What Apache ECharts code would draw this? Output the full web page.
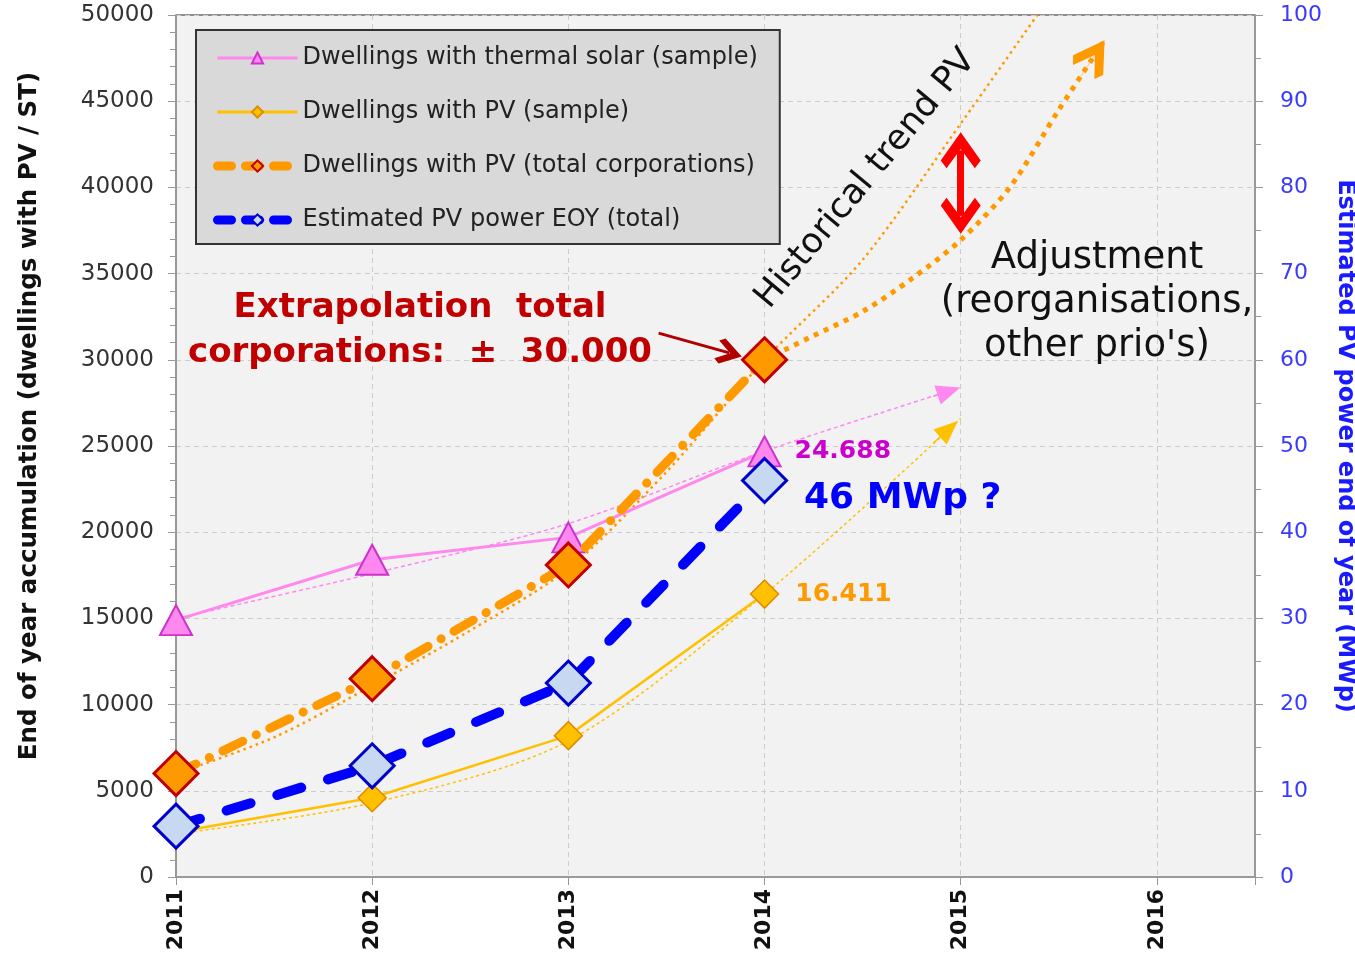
<!DOCTYPE html>
<html>
<head>
<meta charset="utf-8">
<script src="https://cdn.jsdelivr.net/npm/echarts@6/dist/echarts.min.js"></script>
<style>
html,body{margin:0;padding:0;background:#fff;}
#chart{width:1355px;height:963px;}
</style>
</head>
<body>
<div id="chart"></div>
<script>
// ---- data ----
const years = [2011, 2012, 2013, 2014];
const thermalSample = [14900, 18400, 19700, 24688];   // dwellings with thermal solar (sample)
const pvSample = [2600, 4600, 8200, 16411];           // dwellings with PV (sample)
const pvTotal = [6000, 11500, 18100, 30000];          // dwellings with PV (total corporations)
const pvPowerMWp = [5.9, 12.9, 22.5, 46];             // estimated PV power EOY (MWp, right axis)

// trend / extrapolation curves
const thermalTrendX = [2011, 2012, 2013, 2014, 2015];
const thermalTrendY = [15000, 17600, 20500, 24700, 28400];
const pvSampleTrendX = [2011, 2012, 2013, 2014, 2015];
const pvSampleTrendY = [2500, 4300, 7900, 16400, 26600];
const historicalTrendX = [2011, 2011.5, 2012, 2012.5, 2013, 2013.5, 2014, 2014.5, 2015, 2015.39];
const historicalTrendY = [6000, 8100, 11100, 14300, 17900, 23500, 30000, 35800, 43700, 50000];
const adjustmentX = [2014, 2014.25, 2014.5, 2014.75, 2015, 2015.25, 2015.5, 2015.725];
const adjustmentY = [30000, 31400, 32800, 34700, 36950, 40000, 44500, 48400];

const leftTicks = {min: 0, max: 50000, interval: 5000};
const rightTicks = {min: 0, max: 100, interval: 10};
const xTicks = {min: 2011, max: 2016.5, interval: 1};

const names = [
  'Dwellings with thermal solar (sample)',
  'Dwellings with PV (sample)',
  'Dwellings with PV (total corporations)',
  'Estimated PV power EOY (total)'
];

function pairs(xs, ys) { return xs.map((x, i) => [x, ys[i]]); }
function nl(v) { return String(v).replace(/\B(?=(\d{3})+(?!\d))/g, '.'); }
function along(xs, ys, f) {
  const n = xs.length;
  return [xs[n - 2] + (xs[n - 1] - xs[n - 2]) * f, ys[n - 2] + (ys[n - 1] - ys[n - 2]) * f];
}
const FONT = 'DejaVu Sans';
const chevron = 'path://M0,0 L12,11 L8.5,14 L0,6.5 L-8.5,14 L-12,11 Z';

function labelLast(data, label) {
  return data.map((d, i) => i === data.length - 1 ? {value: d, label: label} : d);
}

const chart = echarts.init(document.getElementById('chart'), null, {renderer: 'canvas'});
chart.setOption({
  animation: false,
  backgroundColor: '#ffffff',
  textStyle: {fontFamily: FONT},
  grid: {left: 176, right: 100, top: 15, bottom: 86, show: true, containLabel: false, outerBoundsMode: 'none',
         backgroundColor: '#f2f2f2', borderColor: '#222', borderWidth: 1},
  legend: {
    orient: 'vertical', left: 196, top: 30,
    data: [
      {name: names[0], lineStyle: {width: 3, type: 'solid'}},
      {name: names[1], lineStyle: {width: 3, type: 'solid'}},
      {name: names[2], lineStyle: {width: 9, type: [14, 14], cap: 'round'}},
      {name: names[3], lineStyle: {width: 9, type: [14, 14], cap: 'round'}}
    ],
    backgroundColor: '#d9d9d9', borderColor: '#333', borderWidth: 2,
    padding: [16, 22, 12, 17], itemGap: 30, itemWidth: 80, itemHeight: 14,
    textStyle: {fontFamily: FONT, fontSize: 24, color: '#222'},
    selectedMode: false
  },
  xAxis: {
    type: 'value', min: xTicks.min, max: xTicks.max, interval: xTicks.interval,
    axisLine: {lineStyle: {color: '#999', width: 2}},
    axisTick: {length: 8, lineStyle: {color: '#999'}},
    axisLabel: {rotate: 90, fontSize: 22, fontWeight: 'bold', color: '#111', margin: 12, fontFamily: FONT,
                formatter: v => Number.isInteger(v) ? String(v) : ''},
    splitLine: {show: true, lineStyle: {color: '#cccccc', type: [5, 4], width: 1}}
  },
  yAxis: [{
    type: 'value', min: leftTicks.min, max: leftTicks.max, interval: leftTicks.interval,
    name: 'End of year accumulation (dwellings with PV / ST)', nameLocation: 'middle', nameGap: 134,
    nameTextStyle: {fontSize: 24.5, fontWeight: 'bold', color: '#111', fontFamily: FONT, padding: [0, 0, 0, 60]},
    axisLine: {show: true, lineStyle: {color: '#999', width: 2}},
    axisTick: {show: true, length: 8, lineStyle: {color: '#999'}},
    minorTick: {show: true, splitNumber: 5, length: 6, lineStyle: {color: '#999'}},
    axisLabel: {fontSize: 23, color: '#333', margin: 22, fontFamily: FONT, formatter: v => String(v)},
    splitLine: {show: true, lineStyle: {color: '#cccccc', type: [5, 4], width: 1}}
  }, {
    type: 'value', min: rightTicks.min, max: rightTicks.max, interval: rightTicks.interval, position: 'right',
    name: 'Estimated PV power end of year (MWp)', nameLocation: 'middle', nameGap: 71, nameRotate: -90,
    nameTextStyle: {fontSize: 24, fontWeight: 'bold', color: '#1a1aff', fontFamily: FONT},
    axisLine: {show: true, lineStyle: {color: '#999', width: 2}},
    axisTick: {show: true, length: 8, lineStyle: {color: '#999'}},
    minorTick: {show: true, splitNumber: 2, length: 6, lineStyle: {color: '#999'}},
    axisLabel: {fontSize: 22, color: '#3a3aff', margin: 25, fontFamily: FONT},
    splitLine: {show: false}
  }],
  series: [
    // ---- trend curves ----
    {
      name: 'thermal trend', type: 'line', z: 2, smooth: 0.3, symbol: 'none', silent: true,
      data: pairs(thermalTrendX, thermalTrendY),
      lineStyle: {color: '#ff88ee', width: 1.5, type: [4, 3]},
      markLine: {silent: true, symbol: ['none', 'triangle'], symbolSize: [20, 24], label: {show: false},
        lineStyle: {color: '#ff88ee', width: 1.5, type: 'solid'},
        data: [[{coord: along(thermalTrendX, thermalTrendY, 0.86)}, {coord: along(thermalTrendX, thermalTrendY, 0.94)}]]}
    },
    {
      name: 'pv sample trend', type: 'line', z: 2, smooth: 0.3, symbol: 'none', silent: true,
      data: pairs(pvSampleTrendX, pvSampleTrendY),
      lineStyle: {color: '#ffc000', width: 1.5, type: [3, 3]},
      markLine: {silent: true, symbol: ['none', 'triangle'], symbolSize: [20, 24], label: {show: false},
        lineStyle: {color: '#ffc000', width: 1.5, type: 'solid'},
        data: [[{coord: along(pvSampleTrendX, pvSampleTrendY, 0.86)}, {coord: along(pvSampleTrendX, pvSampleTrendY, 0.94)}]]}
    },
    {
      name: 'historical trend', type: 'line', z: 2, smooth: 0.3, symbol: 'none', silent: true,
      data: pairs(historicalTrendX, historicalTrendY),
      lineStyle: {color: '#ff9900', width: 2.5, type: [2.5, 4]}
    },
    {
      name: 'adjustment', type: 'line', z: 2, smooth: 0.3, symbol: 'none', silent: true,
      data: pairs(adjustmentX, adjustmentY),
      lineStyle: {color: '#ff9900', width: 5, type: [5, 6]},
      markLine: {silent: true, symbol: ['none', chevron], symbolSize: [36, 38], label: {show: false},
        lineStyle: {color: '#ff9900', width: 0.5, type: 'solid'},
        data: [[{coord: along(adjustmentX, adjustmentY, 0.5)}, {coord: along(adjustmentX, adjustmentY, 0.8)}]]}
    },
    // ---- main series ----
    {
      name: names[0], type: 'line', z: 3,
      data: labelLast(pairs(years, thermalSample), {show: true, position: 'right', distance: 13,
        formatter: p => nl(p.value[1]), color: '#cc00cc', fontWeight: 'bold', fontSize: 25, fontFamily: FONT}),
      symbol: 'triangle', symbolSize: [32, 30],
      lineStyle: {color: '#ff88ee', width: 3},
      itemStyle: {color: '#ff88ee', borderColor: '#cc33cc', borderWidth: 2}
    },
    {
      name: names[1], type: 'line', z: 4,
      data: labelLast(pairs(years, pvSample), {show: true, position: 'right', distance: 16,
        formatter: p => nl(p.value[1]), color: '#ff9900', fontWeight: 'bold', fontSize: 25, fontFamily: FONT}),
      symbol: 'diamond', symbolSize: 28,
      lineStyle: {color: '#ffc000', width: 2.5},
      itemStyle: {color: '#ffc000', borderColor: '#e08a00', borderWidth: 1.5}
    },
    {
      name: names[2], type: 'line', z: 5,
      data: pairs(years, pvTotal),
      symbol: 'diamond', symbolSize: 44,
      lineStyle: {color: '#ff9900', width: 9, type: [22, 15, 0.1, 15], cap: 'round'},
      itemStyle: {color: '#ff9900', borderColor: '#c00000', borderWidth: 3},
      markLine: {silent: true, symbol: ['none', chevron], symbolSize: [26, 26], label: {show: false},
        lineStyle: {color: '#b00000', width: 3, type: 'solid'},
        data: [[{coord: [2013.46, 31550]}, {coord: [2013.82, 30400]}]]}
    },
    {
      name: names[3], type: 'line', z: 6, yAxisIndex: 1,
      data: labelLast(pairs(years, pvPowerMWp), {show: true, position: 'right', distance: 16, offset: [0, 18],
        formatter: p => p.value[1] + ' MWp ?', color: '#0000ff', fontWeight: 'bold', fontSize: 36, fontFamily: FONT}),
      symbol: 'diamond', symbolSize: 44,
      lineStyle: {color: '#0000ff', width: 10, type: [25, 28], cap: 'round'},
      itemStyle: {color: '#c6d9f1', borderColor: '#0000cc', borderWidth: 3},
      markLine: {silent: true, symbol: [chevron, chevron], symbolSize: [40, 36], label: {show: false},
        lineStyle: {color: '#ff0000', width: 7, type: 'solid'},
        data: [[{xAxis: 2015, yAxis: 76.7}, {xAxis: 2015, yAxis: 84.3}]]}
    }
  ],
  graphic: [
    {type: 'text', x: 420, y: 286, z: 50, silent: true,
     style: {text: 'Extrapolation  total\ncorporations:  \u00b1  30.000', font: 'bold 34px "DejaVu Sans"',
             fill: '#c00000', align: 'center', verticalAlign: 'top', lineHeight: 45}},
    {type: 'text', x: 866, y: 179, rotation: 0.878, z: 50, silent: true,
     style: {text: 'Historical trend PV', font: '35px "DejaVu Sans"', fill: '#111', align: 'center', verticalAlign: 'middle'}},
    {type: 'text', x: 1097, y: 236, z: 50, silent: true,
     style: {text: "Adjustment\n(reorganisations,\nother prio's)", font: '37px "DejaVu Sans"', fill: '#111',
             align: 'center', verticalAlign: 'top', lineHeight: 44}}
  ]
});
</script>
</body>
</html>
